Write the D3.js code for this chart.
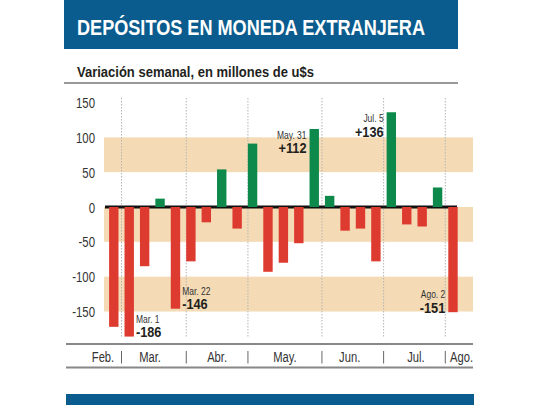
<!DOCTYPE html>
<html>
<head>
<meta charset="utf-8">
<script src="https://cdn.jsdelivr.net/npm/d3@7"></script>
<style>
  body { margin: 0; background: #fff; }
  text { font-family: "Liberation Sans", Arial, sans-serif; }
</style>
</head>
<body>
<div id="chart"></div>
<script>
// weekly change, millions of u$s
var values = [-172, -186, -85, 12, -146, -78, -22, 54, -31, 91, -93, -80, -52,
              112, 16, -34, -31, -78, 136, -25, -28, 28, -151];
var yTicks = [150, 100, 50, 0, -50, -100, -150];
var bands = [[50, 100], [-50, 0], [-150, -100]];
// month dividers and month labels, in bar-index units
var dividers = [0.5, 4.7, 8.7, 13.5, 17.5, 21.5];
var months = ["Feb.", "Mar.", "Abr.", "May.", "Jun.", "Jul.", "Ago."];
var monthPos = [-0.7, 2.35, 6.7, 11.1, 15.3, 19.6, 22.55];
var notes = [
  {i: 1, date: "Mar. 1", label: "-186"},
  {i: 4, date: "Mar. 22", label: "-146"},
  {i: 13, date: "May. 31", label: "+112"},
  {i: 18, date: "Jul. 5", label: "+136"},
  {i: 22, date: "Ago. 2", label: "-151"}
];

var W = 540, H = 405;
var svg = d3.select("#chart").append("svg")
  .attr("width", W).attr("height", H);

var x = d3.scaleLinear().domain([0, 22]).range([113.8, 453]);
var bw = 9.4;
var y = d3.scaleLinear().domain([0, 150]).range([207, 102.5]);

// squeeze text horizontally, the original uses a condensed face
function condense(sel, k) {
  sel.each(function() {
    var l = this.getComputedTextLength();
    d3.select(this).attr("textLength", l * k).attr("lengthAdjust", "spacingAndGlyphs");
  });
}

// header
svg.append("rect").attr("x", 64).attr("y", 0).attr("width", 394).attr("height", 49)
  .attr("fill", "#0a5c8e");
svg.append("text").attr("x", 77).attr("y", 35)
  .attr("fill", "#fff").attr("font-size", 22).attr("font-weight", "bold")
  .attr("textLength", 348).attr("lengthAdjust", "spacingAndGlyphs")
  .text("DEPÓSITOS EN MONEDA EXTRANJERA");

svg.append("text").attr("x", 77).attr("y", 77)
  .attr("fill", "#231f1c").attr("font-size", 15).attr("font-weight", "bold")
  .attr("textLength", 237).attr("lengthAdjust", "spacingAndGlyphs")
  .text("Variación semanal, en millones de u$s");
svg.append("line").attr("x1", 64).attr("x2", 458).attr("y1", 83).attr("y2", 83)
  .attr("stroke", "#999").attr("stroke-width", 2);

// shaded bands
svg.selectAll(".band").data(bands).enter().append("rect")
  .attr("x", 104).attr("width", 369)
  .attr("y", function(d) { return y(d[1]); })
  .attr("height", function(d) { return y(d[0]) - y(d[1]); })
  .attr("fill", "#f4dbb5");

// month dividers
svg.selectAll(".div").data(dividers).enter().append("line")
  .attr("x1", function(d) { return x(d); }).attr("x2", function(d) { return x(d); })
  .attr("y1", 98).attr("y2", 338)
  .attr("stroke", "#b5b5b5").attr("stroke-width", 1).attr("stroke-dasharray", "1.5,1.5");

// y axis labels
svg.selectAll(".yt").data(yTicks).enter().append("text")
  .attr("x", 95).attr("y", function(d) { return y(d) + 5.5; })
  .attr("text-anchor", "end").attr("font-size", 15).attr("fill", "#333")
  .text(function(d) { return d; })
  .call(condense, 0.76);

// zero line
svg.append("line").attr("x1", 105).attr("x2", 457).attr("y1", y(0)).attr("y2", y(0))
  .attr("stroke", "#111").attr("stroke-width", 3);

// bars
svg.selectAll(".bar").data(values).enter().append("rect")
  .attr("x", function(d, i) { return x(i) - bw / 2; })
  .attr("width", bw)
  .attr("y", function(d) { return d > 0 ? y(d) : y(0); })
  .attr("height", function(d) { return Math.abs(y(d) - y(0)); })
  .attr("fill", function(d) { return d > 0 ? "#0d8a4b" : "#de3b30"; });

// annotations: right of the bar for the March ones, left otherwise
var ng = svg.selectAll(".note").data(notes).enter().append("g");
function isRight(d) { return d.i < 10; }
function noteX(d) { return isRight(d) ? x(d.i) + bw / 2 + 2 : x(d.i) - bw / 2 - 3; }
function noteY(d) { return values[d.i] > 0 ? y(values[d.i]) + 10 : y(values[d.i]) - 14; }
ng.append("text")
  .attr("x", noteX).attr("y", noteY)
  .attr("text-anchor", function(d) { return isRight(d) ? "start" : "end"; })
  .attr("font-size", 11).attr("fill", "#333")
  .text(function(d) { return d.date; })
  .call(condense, 0.77);
ng.append("text")
  .attr("x", noteX).attr("y", function(d) { return noteY(d) + 14.5; })
  .attr("text-anchor", function(d) { return isRight(d) ? "start" : "end"; })
  .attr("font-size", 15).attr("font-weight", "bold").attr("fill", "#231f1c")
  .text(function(d) { return d.label; })
  .call(condense, 0.85);

// bottom axis
svg.append("line").attr("x1", 66).attr("x2", 473).attr("y1", 344).attr("y2", 344)
  .attr("stroke", "#888").attr("stroke-width", 2);
svg.append("line").attr("x1", 66).attr("x2", 473).attr("y1", 367.5).attr("y2", 367.5)
  .attr("stroke", "#888").attr("stroke-width", 2);
svg.selectAll(".sep").data(dividers).enter().append("line")
  .attr("x1", function(d) { return x(d); }).attr("x2", function(d) { return x(d); })
  .attr("y1", 351).attr("y2", 363.5)
  .attr("stroke", "#666").attr("stroke-width", 1);
svg.selectAll(".mon").data(months).enter().append("text")
  .attr("x", function(d, i) { return x(monthPos[i]); }).attr("y", 362)
  .attr("text-anchor", "middle").attr("font-size", 14).attr("fill", "#333")
  .text(function(d) { return d; })
  .call(condense, 0.8);

// footer band
svg.append("rect").attr("x", 66).attr("y", 394).attr("width", 408).attr("height", 11)
  .attr("fill", "#0a5c8e");
</script>
</body>
</html>
